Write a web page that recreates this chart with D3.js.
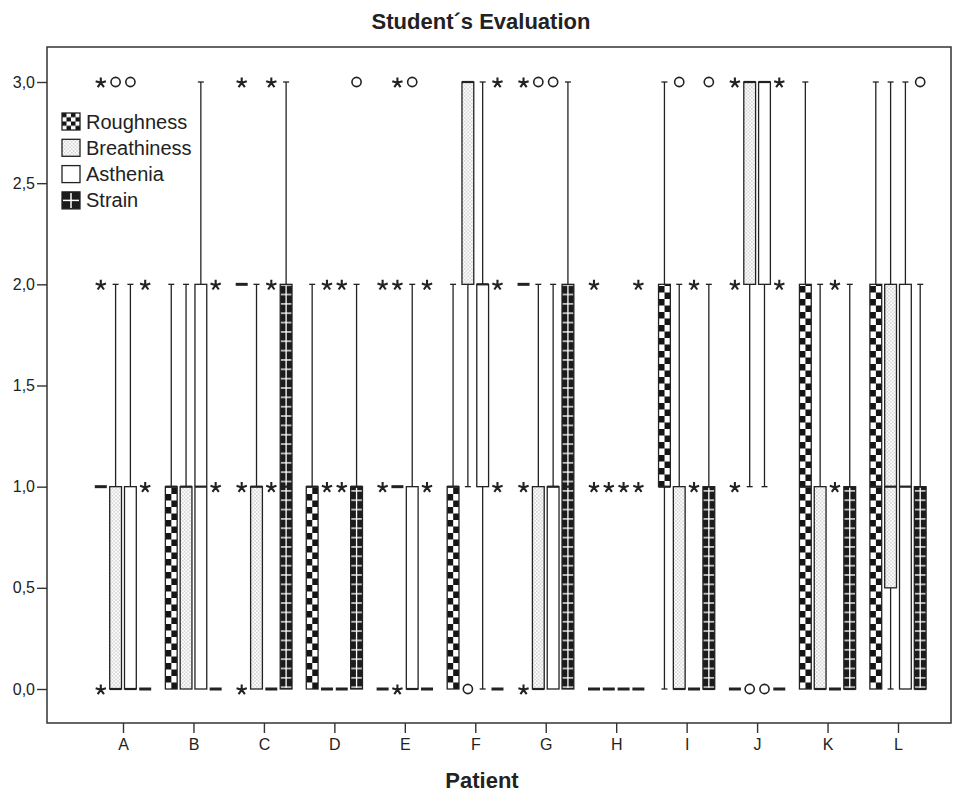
<!DOCTYPE html>
<html><head><meta charset="utf-8">
<script src="https://cdn.jsdelivr.net/npm/d3@7"></script>
<style>
body{margin:0;background:#fff}
svg{display:block}
text{font-family:"Liberation Sans",Arial,sans-serif;fill:#222}
</style>
</head><body>
<svg id="c" width="962" height="796"></svg>
<script>
// ---------- DATA ----------
const patients = ["A","B","C","D","E","F","G","H","I","J","K","L"];
const seriesNames = ["Roughness","Breathiness","Asthenia","Strain"];
const yTicks = [0,0.5,1,1.5,2,2.5,3];

// box stats per patient: [q1, median, q3, whiskerLow, whiskerHigh]
const roughnessBox = [[1,1,1,1,1],[0,1,1,0,2],[2,2,2,2,2],[0,1,1,0,2],[0,0,0,0,0],[0,1,1,0,2],
                      [2,2,2,2,2],[0,0,0,0,0],[1,1,2,0,3],[0,0,0,0,0],[0,1,2,0,3],[0,1,2,0,3]];
const roughnessOutliers = [[],[],[],[],[],[],[],[],[],[],[],[]];
const roughnessExtremes = [[0,2,3],[],[0,1,3],[],[1,2],[],[0,1,3],[1,2],[],[1,2,3],[],[]];

const breathinessBox = [[0,0,1,0,2],[0,1,1,0,2],[0,1,1,0,2],[0,0,0,0,0],[1,1,1,1,1],[2,3,3,1,3],
                        [0,0,1,0,2],[0,0,0,0,0],[0,0,1,0,2],[2,3,3,1,3],[0,0,1,0,2],[0.5,1,2,0,3]];
const breathinessOutliers = [[3],[],[],[],[],[0],[3],[],[3],[0],[],[]];
const breathinessExtremes = [[],[],[],[1,2],[0,2,3],[],[],[1],[],[],[],[]];

const astheniaBox = [[0,0,1,0,2],[0,1,2,0,3],[0,0,0,0,0],[0,0,0,0,0],[0,0,1,0,2],[1,2,2,0,3],
                     [0,1,1,0,2],[0,0,0,0,0],[0,0,0,0,0],[2,3,3,1,3],[0,0,0,0,0],[0,1,2,0,3]];
const astheniaOutliers = [[3],[],[],[],[3],[],[3],[],[],[0],[],[]];
const astheniaExtremes = [[],[],[1,2,3],[1,2],[],[],[],[1],[1,2],[],[1,2],[]];

const strainBox = [[0,0,0,0,0],[0,0,0,0,0],[0,1,2,0,3],[0,1,1,0,2],[0,0,0,0,0],[0,0,0,0,0],
                   [0,1,2,0,3],[0,0,0,0,0],[0,0,1,0,2],[0,0,0,0,0],[0,0,1,0,2],[0,0,1,0,2]];
const strainOutliers = [[],[],[],[3],[],[],[],[],[3],[],[],[3]];
const strainExtremes = [[1,2],[1,2],[],[],[1,2],[1,2,3],[],[1,2],[],[2,3],[],[]];

const boxes = [roughnessBox, breathinessBox, astheniaBox, strainBox];
const outliers = [roughnessOutliers, breathinessOutliers, astheniaOutliers, strainOutliers];
const extremes = [roughnessExtremes, breathinessExtremes, astheniaExtremes, strainExtremes];

// ---------- LAYOUT ----------
const svg = d3.select("#c");
const frame = {l:47, t:47, r:951, b:723};
const x = d3.scalePoint().domain(patients).range([123, 898]);
const xs = d3.scalePoint().domain(seriesNames).range([-22.2, 22.2]);
const y = d3.scaleLinear().domain([0,3]).range([689, 82]);
const boxW = 11.8;
const ink = "#222";

// patterns
const defs = svg.append("defs");
const chk = defs.append("pattern").attr("id","chk").attr("patternUnits","userSpaceOnUse")
  .attr("width",12).attr("height",13);
chk.append("rect").attr("width",12).attr("height",13).attr("fill","#fff");
chk.append("rect").attr("x",0).attr("y",0).attr("width",6).attr("height",6.5).attr("fill","#151515");
chk.append("rect").attr("x",6).attr("y",6.5).attr("width",6).attr("height",6.5).attr("fill","#151515");

const chkL = defs.append("pattern").attr("id","chkL").attr("patternUnits","userSpaceOnUse")
  .attr("width",9).attr("height",8.5);
chkL.append("rect").attr("width",9).attr("height",8.5).attr("fill","#fff");
chkL.append("rect").attr("width",4.5).attr("height",4.25).attr("fill","#151515");
chkL.append("rect").attr("x",4.5).attr("y",4.25).attr("width",4.5).attr("height",4.25).attr("fill","#151515");

const dot = defs.append("pattern").attr("id","dot").attr("patternUnits","userSpaceOnUse")
  .attr("width",3.6).attr("height",3.6);
dot.append("rect").attr("width",3.6).attr("height",3.6).attr("fill","#fff");
dot.append("rect").attr("x",0.4).attr("y",0.4).attr("width",0.9).attr("height",0.9).attr("fill","#666");
dot.append("rect").attr("x",2.2).attr("y",2.2).attr("width",0.9).attr("height",0.9).attr("fill","#666");

const str = defs.append("pattern").attr("id","str").attr("patternUnits","userSpaceOnUse")
  .attr("width",20).attr("height",9.35);
str.append("rect").attr("width",20).attr("height",9.35).attr("fill","#1c1c1c");
str.append("rect").attr("y",4).attr("width",20).attr("height",1.3).attr("fill","#fff");

const fills = ["url(#chk)","url(#dot)","#fff","url(#str)"];

// title
svg.append("text").attr("x",481).attr("y",29).attr("text-anchor","middle")
  .attr("font-size",22).attr("font-weight","bold").text("Student´s Evaluation");

// frame
svg.append("rect").attr("x",frame.l).attr("y",frame.t).attr("width",frame.r-frame.l)
  .attr("height",frame.b-frame.t).attr("fill","none").attr("stroke","#333").attr("stroke-width",1.5);

// y axis
const yAxis = svg.append("g").attr("transform",`translate(${frame.l},0)`)
  .call(d3.axisLeft(y).tickValues(yTicks).tickSize(10).tickPadding(2)
    .tickFormat(d => d3.format(".1f")(d).replace(".", ",")));
yAxis.select(".domain").remove();
yAxis.selectAll("line").attr("stroke","#333").attr("stroke-width",1.4);
yAxis.selectAll("text").attr("font-size",16).attr("font-family",'"Liberation Sans",Arial,sans-serif').attr("fill","#222");

// x axis
const xAxis = svg.append("g").attr("transform",`translate(0,${frame.b})`)
  .call(d3.axisBottom(x).tickSize(10).tickPadding(6));
xAxis.select(".domain").remove();
xAxis.selectAll("line").attr("stroke","#333").attr("stroke-width",1.4);
xAxis.selectAll("text").attr("font-size",16).attr("font-family",'"Liberation Sans",Arial,sans-serif').attr("fill","#222");

svg.append("text").attr("x",482).attr("y",788).attr("text-anchor","middle")
  .attr("font-size",22).attr("font-weight","bold").text("Patient");

// star path (5-arm asterisk)
function starPath(r){
  let p = "";
  for (let k=0;k<5;k++){
    const a = (-90 + 72*k) * Math.PI/180;
    p += `M0,0L${(r*Math.cos(a)).toFixed(2)},${(r*Math.sin(a)).toFixed(2)}`;
  }
  return p;
}

// ---------- MARKS ----------
const plot = svg.append("g");
seriesNames.forEach((s, si) => {
  patients.forEach((p, pi) => {
    const [q1, med, q3, wlo, whi] = boxes[si][pi];
    const cx = x(p) + xs(s);
    const g = plot.append("g").attr("transform",`translate(${cx},0)`);
    if (whi > q3) {
      g.append("line").attr("x1",0).attr("x2",0).attr("y1",y(q3)).attr("y2",y(whi)).attr("stroke",ink).attr("stroke-width",1.3);
      g.append("line").attr("x1",-3).attr("x2",3).attr("y1",y(whi)).attr("y2",y(whi)).attr("stroke",ink).attr("stroke-width",1.3);
    }
    if (wlo < q1) {
      g.append("line").attr("x1",0).attr("x2",0).attr("y1",y(q1)).attr("y2",y(wlo)).attr("stroke",ink).attr("stroke-width",1.3);
      g.append("line").attr("x1",-3).attr("x2",3).attr("y1",y(wlo)).attr("y2",y(wlo)).attr("stroke",ink).attr("stroke-width",1.3);
    }
    if (q3 > q1) {
      const bx = g.append("g").attr("transform",`translate(${-boxW/2},0)`);
      bx.append("rect").attr("x",0).attr("y",y(q3)).attr("width",boxW).attr("height",y(q1)-y(q3))
        .attr("fill",fills[si]).attr("stroke",ink).attr("stroke-width",1.3);
      if (si === 3) {
        g.append("line").attr("x1",0).attr("x2",0).attr("y1",y(q3)+1).attr("y2",y(q1)-1)
          .attr("stroke","#fff").attr("stroke-width",1.3);
      }
      g.append("line").attr("x1",-boxW/2).attr("x2",boxW/2).attr("y1",y(med)).attr("y2",y(med))
        .attr("stroke",ink).attr("stroke-width",2.2);
    } else {
      g.append("line").attr("x1",-6).attr("x2",6).attr("y1",y(med)).attr("y2",y(med))
        .attr("stroke",ink).attr("stroke-width",3);
    }
    outliers[si][pi].forEach(v => {
      g.append("circle").attr("cx",0).attr("cy",y(v)).attr("r",4.6)
        .attr("fill","#fff").attr("stroke",ink).attr("stroke-width",1.6);
    });
    extremes[si][pi].forEach(v => {
      g.append("path").attr("d",starPath(5.4)).attr("transform",`translate(0,${y(v)+0.8})`)
        .attr("fill","none").attr("stroke",ink).attr("stroke-width",2.1);
    });
  });
});

// ---------- LEGEND ----------
const legend = svg.append("g");
const legFills = ["url(#chkL)","url(#dot)","#fff","#1c1c1c"];
seriesNames.forEach((s, i) => {
  const ly = 113 + i*26.3;
  const lg = legend.append("g").attr("transform",`translate(62,${ly})`);
  lg.append("rect").attr("width",18).attr("height",17).attr("fill",legFills[i])
    .attr("stroke",ink).attr("stroke-width",1.3);
  if (i === 3) {
    lg.append("line").attr("x1",9).attr("x2",9).attr("y1",1).attr("y2",16).attr("stroke","#fff").attr("stroke-width",1.5);
    lg.append("line").attr("x1",1).attr("x2",17).attr("y1",8.5).attr("y2",8.5).attr("stroke","#fff").attr("stroke-width",1.5);
  }
  lg.append("text").attr("x",24).attr("y",15.5).attr("font-size",20).text(s);
});
</script>
</body></html>
